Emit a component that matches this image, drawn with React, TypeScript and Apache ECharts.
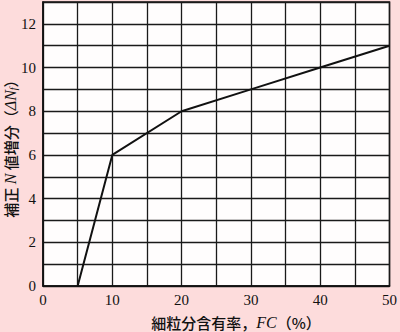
import React, { useEffect, useRef } from "react";
import * as echarts from "echarts";

const fcValues = [5, 10, 20, 30, 40, 50];
const dnValues = [0, 6, 8, 9, 10, 11];
const xTickLabels = [0, 10, 20, 30, 40, 50];
const yTickLabels = [0, 2, 4, 6, 8, 10, 12];

export default function App() {
  const ref = useRef<HTMLDivElement>(null);
  useEffect(() => {
    if (!ref.current) return;
    const chart = echarts.init(ref.current, null, { renderer: "svg" });
    const serif = "'Liberation Serif', 'DejaVu Serif', serif";
    const cjk = "'Noto Sans CJK JP', sans-serif";
    chart.setOption({
      animation: false,
      backgroundColor: "#fddcdc",
      grid: {
        left: 43,
        right: 8,
        top: 2,
        bottom: 46,
        show: true,
        backgroundColor: "#fffdfd",
        borderColor: "#111",
        borderWidth: 1.5,
      },
      xAxis: {
        type: "value",
        min: 0,
        max: 50,
        interval: 5,
        axisLine: { show: true, lineStyle: { color: "#111", width: 1.5 } },
        axisTick: { show: false },
        axisLabel: {
          color: "#111",
          fontFamily: serif,
          fontSize: 15,
          margin: 6,
          formatter: (v: number) => (xTickLabels.includes(v) ? String(v) : ""),
        },
        splitLine: { show: true, lineStyle: { color: "#1a1a1a", width: 1.3 } },
      },
      yAxis: {
        type: "value",
        min: 0,
        max: 13,
        interval: 1,
        axisLine: { show: true, lineStyle: { color: "#111", width: 1.5 } },
        axisTick: { show: false },
        axisLabel: {
          color: "#111",
          fontFamily: serif,
          fontSize: 15,
          margin: 7,
          formatter: (v: number) => (yTickLabels.includes(v) ? String(v) : ""),
        },
        splitLine: { show: true, lineStyle: { color: "#1a1a1a", width: 1.3 } },
      },
      graphic: [
        {
          type: "text",
          x: 236,
          y: 322,
          style: {
            text: "{a|細粒分含有率，}{i|FC}{a|（%）}",
            align: "center",
            verticalAlign: "middle",
            rich: {
              a: { fontFamily: cjk, fontSize: 15, fill: "#111", fontWeight: 500 },
              i: { fontFamily: serif, fontStyle: "italic", fontSize: 16, fill: "#111" },
            },
          },
        },
        {
          type: "text",
          x: 10,
          y: 145,
          rotation: Math.PI / 2,
          style: {
            text: "{a|補正 }{i|N}{a| 値増分（}{i|ΔN}{s|f}{a|）}",
            align: "center",
            verticalAlign: "middle",
            rich: {
              a: { fontFamily: cjk, fontSize: 15, fill: "#111", fontWeight: 500 },
              i: { fontFamily: serif, fontStyle: "italic", fontSize: 16, fill: "#111" },
              s: { fontFamily: serif, fontStyle: "italic", fontSize: 10, fill: "#111", verticalAlign: "bottom", padding: [6, 0, 0, 0] },
            },
          },
        },
      ],
      series: [
        {
          type: "line",
          data: fcValues.map((x, i) => [x, dnValues[i]]),
          symbol: "none",
          lineStyle: { color: "#111", width: 2 },
        },
      ],
    });
    return () => chart.dispose();
  }, []);
  return (
    <div
      ref={ref}
      style={{ position: "fixed", left: 0, top: 0, width: 400, height: 332 }}
    />
  );
}
